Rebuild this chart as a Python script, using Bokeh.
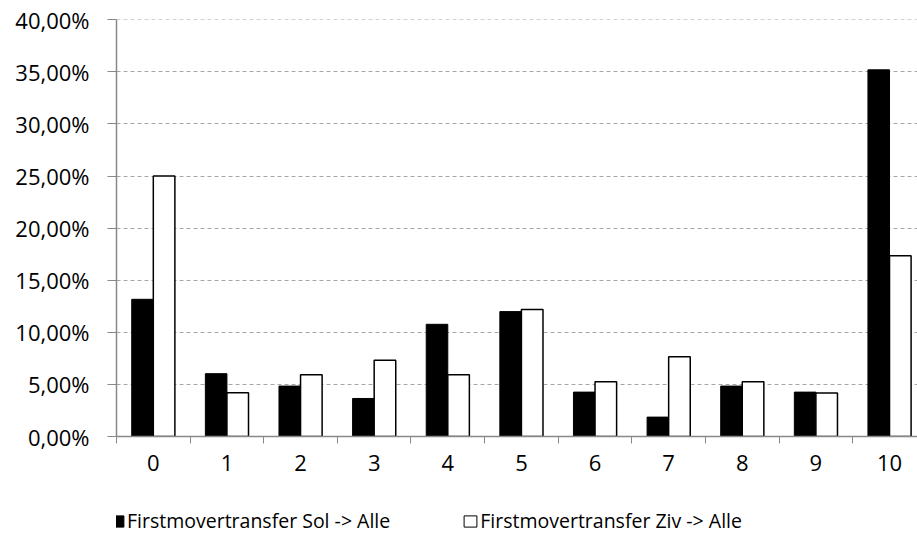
from bokeh.plotting import figure
from bokeh.layouts import column
from bokeh.models import ColumnDataSource, FixedTicker, Range1d, Legend, LegendItem
from bokeh.transform import dodge
from bokeh.embed import file_html
from bokeh.resources import INLINE

# ---- data ----
categories = [0, 1, 2, 3, 4, 5, 6, 7, 8, 9, 10]
sol_alle = [13.17, 6.03, 4.84, 3.65, 10.77, 11.99, 4.26, 1.86, 4.84, 4.26, 35.2]
ziv_alle = [25.0, 4.2, 5.93, 7.31, 5.93, 12.18, 5.26, 7.66, 5.26, 4.17, 17.34]
y_ticks = [0, 5, 10, 15, 20, 25, 30, 35, 40]
y_tick_labels = ["0,00%", "5,00%", "10,00%", "15,00%", "20,00%", "25,00%", "30,00%", "35,00%", "40,00%"]
series_names = ["Firstmovertransfer Sol -> Alle", "Firstmovertransfer Ziv -> Alle"]

FONT = "Open Sans"
FS = "22px"

src = ColumnDataSource(dict(cat=categories, sol=sol_alle, ziv=ziv_alle))

p = figure(width=917, height=490, output_backend="svg", toolbar_location=None,
           x_range=Range1d(-0.5, 10.38), y_range=Range1d(0, 40.03),
           min_border_left=116, min_border_right=0, min_border_top=19, min_border_bottom=54)
p.outline_line_color = None
p.background_fill_color = "white"
p.border_fill_color = "white"

bw = 0.293
black_style = dict(fill_color="black", line_color="black", line_width=1)
white_style = dict(fill_color="white", line_color="black", line_width=1.5)
p.vbar(x=dodge("cat", -bw / 2, range=p.x_range), top="sol", width=bw, source=src, **black_style)
p.vbar(x=dodge("cat", bw / 2, range=p.x_range), top="ziv", width=bw, source=src, **white_style)

# x axis: labels at category centres, tick marks between categories
xt = FixedTicker(ticks=categories, minor_ticks=[c - 0.5 for c in categories] + [categories[-1] + 0.5])
p.xaxis.ticker = xt
p.xaxis.major_tick_line_color = None
p.xaxis.major_tick_out = 0
p.xaxis.major_tick_in = 0
p.xaxis.minor_tick_line_color = "#888888"
p.xaxis.minor_tick_out = 7
p.xaxis.minor_tick_in = 0
p.xaxis.axis_line_color = "#888888"
p.xaxis.axis_line_width = 1.5
p.xaxis.major_label_standoff = 11
p.xaxis.major_label_text_font = FONT
p.xaxis.major_label_text_font_size = FS
p.xaxis.major_label_text_color = "black"

p.yaxis.ticker = FixedTicker(ticks=y_ticks)
p.yaxis.major_label_overrides = {t: l for t, l in zip(y_ticks, y_tick_labels)}
p.yaxis.axis_line_color = "#888888"
p.yaxis.axis_line_width = 1.5
p.yaxis.major_tick_line_color = "#888888"
p.yaxis.major_tick_out = 9
p.yaxis.major_tick_in = 0
p.yaxis.minor_tick_line_color = None
p.yaxis.major_label_standoff = 18
p.yaxis.major_label_text_font = FONT
p.yaxis.major_label_text_font_size = FS
p.yaxis.major_label_text_color = "black"

p.xgrid.grid_line_color = None
p.ygrid.ticker = FixedTicker(ticks=y_ticks[1:])
p.ygrid.grid_line_color = "#a6a6a6"
p.ygrid.grid_line_dash = "4 3"
p.ygrid.grid_line_width = 1.2

# legend strip below the chart (its own renderers lie far outside its visible ranges)
lf = figure(width=917, height=47, output_backend="svg", toolbar_location=None,
            x_axis_type=None, y_axis_type=None, x_range=Range1d(1000, 1001), y_range=Range1d(1000, 1001),
            min_border_left=116, min_border_right=0, min_border_top=0, min_border_bottom=0)
lf.outline_line_color = None
lf.xgrid.grid_line_color = None
lf.ygrid.grid_line_color = None
lr1 = lf.vbar(x="cat", top="sol", width=bw, source=src, **black_style)
lr2 = lf.vbar(x="cat", top="ziv", width=bw, source=src, fill_color="white", line_color="black", line_width=1)

legend = Legend(items=[LegendItem(label=series_names[0], renderers=[lr1], index=0),
                       LegendItem(label=series_names[1], renderers=[lr2], index=0)],
                orientation="horizontal", location=(-7, 3))
legend.border_line_color = None
legend.background_fill_alpha = 0
legend.padding = 0
legend.margin = 0
legend.spacing = 72
legend.glyph_width = 16
legend.glyph_height = 14
legend.label_standoff = 2
legend.label_text_font = FONT
legend.label_text_font_size = "19.5px"
legend.label_text_color = "black"
legend.label_height = 14
lf.add_layout(legend, "center")

layout = column(p, lf, spacing=0)
open("out.html", "w").write(file_html(layout, INLINE))
